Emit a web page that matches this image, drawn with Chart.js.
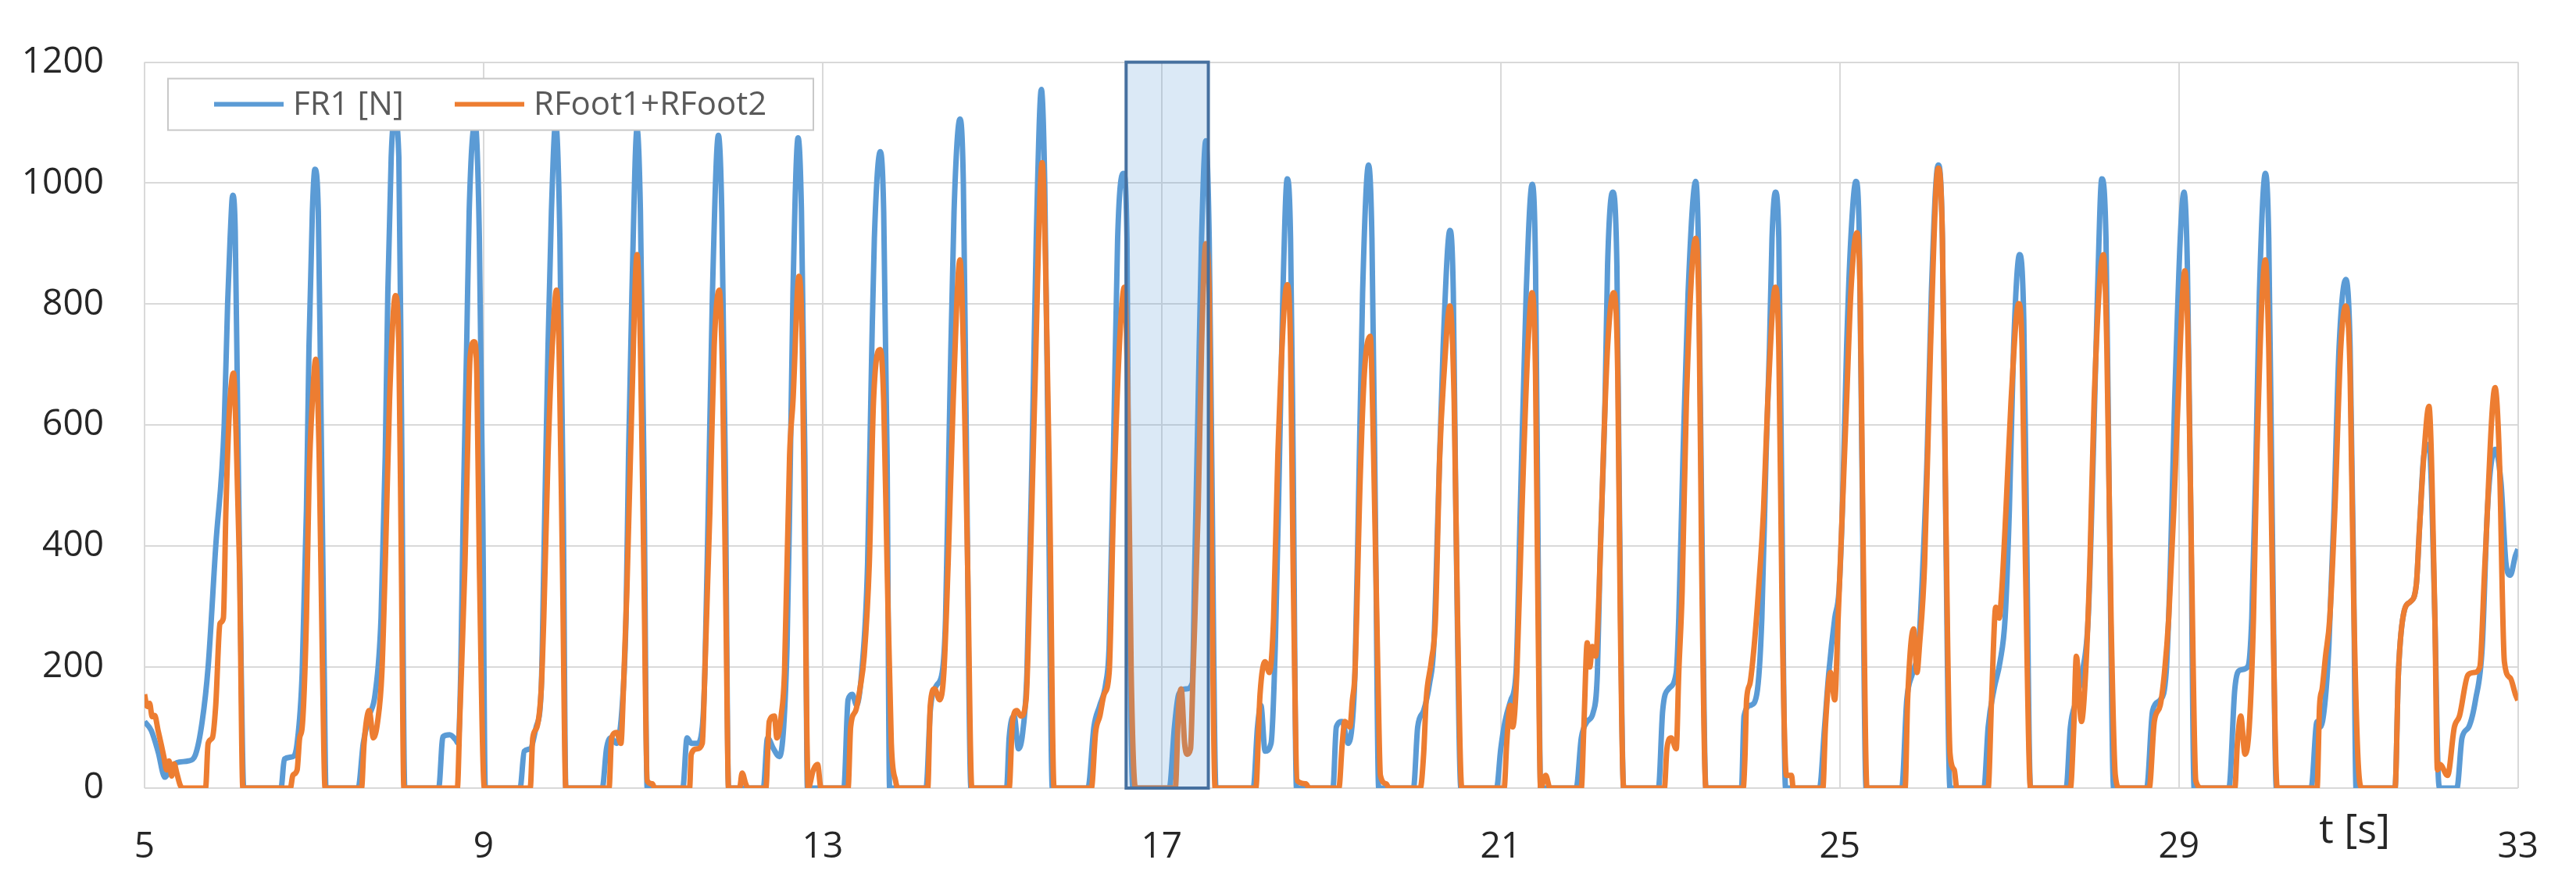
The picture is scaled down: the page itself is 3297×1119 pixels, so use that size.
<!DOCTYPE html>
<html>
<head>
<meta charset="utf-8">
<title>FR1 vs RFoot1+RFoot2</title>
<script src="https://cdn.jsdelivr.net/npm/chart.js@4.4.1/dist/chart.umd.min.js"></script>
<style>
    html, body { margin: 0; padding: 0; background: #ffffff; }
    canvas { display: block; }
</style>
</head>
<body>
<canvas id="forceChart" width="3297" height="1119"></canvas>
<script>
// time ticks [s] and force ticks [N]
const xTicks = [5, 9, 13, 17, 21, 25, 29, 33];
const yTicks = [0, 200, 400, 600, 800, 1000, 1200];

// step marked by the shaded box [s]
const highlightSpan = [16.58, 17.55];

const seriesNames = ['FR1 [N]', 'RFoot1+RFoot2'];

// FR1 [N] samples: [t, force]
const fr1Samples = [
    [5.00,110],[5.08,95],[5.16,60],[5.24,18],[5.30,30],[5.38,42],[5.52,45],[5.60,55],[5.68,110],[5.75,200],[5.84,400],[5.94,600],[5.98,800],[6.01,910],[6.04,980],[6.07,920],[6.10,600],[6.14,200],[6.17,0],
    [6.61,0],[6.65,48],[6.75,52],[6.80,74],[6.86,191],[6.91,460],[6.94,729],[6.98,953],[7.01,1023],[7.05,953],[7.08,640],[7.12,191],[7.14,0],
    [7.52,0],[7.58,74],[7.65,119],[7.72,155],[7.79,281],[7.84,550],[7.87,819],[7.91,1043],[7.95,1110],[8.00,1043],[8.03,640],[8.07,0],
    [8.47,0],[8.52,85],[8.60,88],[8.67,80],[8.70,74],[8.73,191],[8.76,460],[8.80,729],[8.83,953],[8.90,1100],[8.95,909],[8.99,460],[9.02,0],
    [9.43,0],[9.48,61],[9.55,65],[9.62,101],[9.68,164],[9.71,370],[9.76,729],[9.80,953],[9.85,1100],[9.90,909],[9.94,460],[9.97,0],
    [10.40,0],[10.45,65],[10.50,83],[10.57,74],[10.64,146],[10.68,281],[10.71,550],[10.75,819],[10.81,1090],[10.85,953],[10.89,550],[10.93,0],
    [11.35,0],[11.40,83],[11.45,74],[11.52,74],[11.58,101],[11.61,191],[11.65,460],[11.70,819],[11.77,1079],[11.81,953],[11.85,550],[11.89,0],
    [12.30,0],[12.35,83],[12.42,65],[12.49,52],[12.54,101],[12.58,236],[12.61,460],[12.65,819],[12.71,1075],[12.75,953],[12.79,550],[12.82,0],
    [13.25,0],[13.30,146],[13.35,155],[13.40,137],[13.46,191],[13.53,370],[13.58,729],[13.61,909],[13.68,1052],[13.72,953],[13.76,550],[13.79,0],
    [14.22,0],[14.27,128],[14.34,169],[14.41,191],[14.45,281],[14.50,640],[14.55,953],[14.62,1106],[14.66,998],[14.69,640],[14.75,0],
    [15.17,0],[15.20,83],[15.26,119],[15.31,65],[15.36,92],[15.41,191],[15.47,550],[15.52,909],[15.58,1155],[15.62,998],[15.66,550],[15.71,0],
    [16.13,0],[16.20,101],[16.27,137],[16.34,173],[16.38,236],[16.43,550],[16.48,909],[16.55,1016],[16.59,909],[16.61,460],[16.66,0],
    [17.09,0],[17.15,101],[17.20,155],[17.29,164],[17.36,173],[17.39,370],[17.43,640],[17.47,909],[17.52,1070],[17.56,909],[17.59,550],[17.64,0],
    [18.08,0],[18.13,101],[18.17,137],[18.22,61],[18.29,74],[18.34,236],[18.39,550],[18.43,819],[18.48,1007],[18.52,909],[18.55,550],[18.59,0],
    [19.02,0],[19.06,101],[19.13,110],[19.20,74],[19.25,110],[19.28,191],[19.32,460],[19.37,819],[19.44,1030],[19.48,909],[19.52,460],[19.56,0],
    [19.97,0],[20.02,101],[20.09,128],[20.16,173],[20.21,236],[20.26,460],[20.32,729],[20.40,922],[20.44,819],[20.47,460],[20.53,0],
    [20.95,0],[21.00,65],[21.05,110],[21.12,146],[21.18,191],[21.23,460],[21.30,819],[21.37,998],[21.41,864],[21.44,400],[21.47,0],
    [21.89,0],[21.95,83],[22.02,110],[22.09,125],[22.14,191],[22.17,370],[22.23,640],[22.26,864],[22.32,985],[22.37,864],[22.40,460],[22.45,0],
    [22.86,0],[22.91,128],[22.98,164],[23.07,191],[23.10,281],[23.15,550],[23.21,819],[23.30,1003],[23.33,909],[23.37,460],[23.42,0],
    [23.84,0],[23.87,119],[23.95,137],[24.02,155],[24.08,281],[24.13,550],[24.17,729],[24.20,909],[24.24,985],[24.28,909],[24.31,550],[24.36,0],
    [24.76,0],[24.82,101],[24.87,191],[24.94,281],[24.99,326],[25.03,460],[25.08,729],[25.13,909],[25.19,1003],[25.23,909],[25.26,550],[25.31,0],
    [25.73,0],[25.79,146],[25.86,191],[25.93,236],[25.98,370],[26.03,550],[26.08,819],[26.16,1030],[26.21,909],[26.24,550],[26.30,0],
    [26.70,0],[26.75,101],[26.82,164],[26.89,209],[26.95,281],[27.00,460],[27.05,729],[27.12,882],[27.17,774],[27.20,460],[27.25,0],
    [27.67,0],[27.72,101],[27.79,146],[27.86,191],[27.93,281],[27.99,550],[28.04,819],[28.09,1007],[28.14,909],[28.18,460],[28.23,0],
    [28.62,0],[28.69,128],[28.78,146],[28.85,191],[28.90,370],[28.95,640],[29.06,985],[29.10,864],[29.14,460],[29.18,0],
    [29.59,0],[29.66,164],[29.72,195],[29.81,200],[29.86,281],[29.91,550],[29.95,819],[30.02,1016],[30.06,909],[30.10,460],[30.15,0],
    [30.56,0],[30.63,110],[30.67,101],[30.72,137],[30.77,236],[30.83,460],[30.89,729],[30.97,841],[31.02,729],[31.06,370],[31.09,0],
    [31.55,0],[31.59,191],[31.66,294],[31.73,308],[31.80,335],[31.84,433],[31.89,550],[31.95,568],[32.02,281],[32.06,20],[32.08,0],
    [32.28,0],[32.34,83],[32.42,101],[32.50,146],[32.58,236],[32.64,460],[32.73,560],[32.80,505],[32.86,370],[32.91,352],[32.97,384],[33.00,395]
];

// RFoot1+RFoot2 samples: [t, force]
const footSamples = [
    [5.00,155],[5.03,135],[5.06,140],[5.09,118],[5.12,120],[5.16,95],[5.20,70],[5.23,50],[5.26,30],[5.29,45],[5.32,20],[5.35,40],[5.38,25],[5.42,5],[5.45,0],
    [5.72,0],[5.75,74],[5.80,83],[5.84,137],[5.89,272],[5.93,281],[5.96,460],[6.00,622],[6.03,675],[6.05,686],[6.08,586],[6.12,370],[6.16,0],
    [6.72,0],[6.75,21],[6.80,30],[6.83,83],[6.86,101],[6.91,281],[6.94,505],[6.98,640],[7.02,709],[7.06,550],[7.10,191],[7.13,0],
    [7.56,0],[7.59,74],[7.65,128],[7.70,83],[7.75,110],[7.80,191],[7.84,370],[7.89,640],[7.96,814],[8.00,729],[8.03,370],[8.06,0],
    [8.69,0],[8.72,120],[8.74,200],[8.78,370],[8.81,550],[8.84,711],[8.89,738],[8.92,684],[8.95,370],[9.01,0],
    [9.55,0],[9.58,83],[9.63,101],[9.68,164],[9.71,281],[9.76,550],[9.81,729],[9.86,823],[9.89,729],[9.93,370],[9.97,0],
    [10.48,0],[10.51,83],[10.57,92],[10.62,74],[10.65,164],[10.69,326],[10.75,640],[10.81,882],[10.85,729],[10.89,370],[10.93,12],[10.99,7],[11.02,0],
    [11.43,0],[11.45,56],[11.52,65],[11.58,74],[11.61,191],[11.67,460],[11.72,729],[11.78,823],[11.82,675],[11.86,281],[11.89,0],[12.02,0],[12.05,25],[12.09,8],[12.12,0],
    [12.33,0],[12.37,110],[12.43,119],[12.46,83],[12.51,119],[12.55,191],[12.61,550],[12.65,640],[12.72,846],[12.76,729],[12.79,370],[12.83,0],[12.89,30],[12.94,39],[12.98,0],
    [13.30,0],[13.33,101],[13.39,128],[13.44,164],[13.49,218],[13.55,370],[13.60,640],[13.68,725],[13.72,640],[13.76,370],[13.81,74],[13.86,12],[13.89,0],
    [14.24,0],[14.27,137],[14.32,164],[14.38,146],[14.43,191],[14.48,370],[14.54,640],[14.62,873],[14.66,729],[14.71,370],[14.76,0],
    [15.20,0],[15.24,110],[15.29,128],[15.34,119],[15.40,146],[15.45,370],[15.50,640],[15.59,1034],[15.63,864],[15.68,460],[15.73,0],
    [16.17,0],[16.22,92],[16.27,119],[16.32,155],[16.38,191],[16.43,460],[16.50,729],[16.56,828],[16.60,640],[16.64,191],[16.69,0],
    [17.16,0],[17.20,137],[17.23,164],[17.27,74],[17.30,56],[17.34,65],[17.37,191],[17.43,460],[17.47,729],[17.52,900],[17.56,819],[17.59,370],[17.63,0],
    [18.11,0],[18.16,155],[18.22,209],[18.27,191],[18.32,281],[18.37,550],[18.48,832],[18.52,729],[18.55,370],[18.60,12],[18.70,7],[18.74,0],
    [19.09,0],[19.13,74],[19.16,110],[19.22,101],[19.25,146],[19.28,191],[19.34,505],[19.39,684],[19.46,747],[19.50,550],[19.55,191],[19.58,21],[19.65,7],[19.68,0],
    [20.05,0],[20.09,56],[20.12,146],[20.18,209],[20.23,281],[20.28,550],[20.33,684],[20.40,797],[20.45,640],[20.49,281],[20.54,0],
    [21.04,0],[21.07,74],[21.11,137],[21.14,101],[21.19,191],[21.25,460],[21.32,729],[21.37,819],[21.41,684],[21.44,281],[21.47,0],[21.53,21],[21.58,0],
    [21.95,0],[21.98,101],[22.02,240],[22.05,200],[22.08,234],[22.12,218],[22.16,326],[22.21,550],[22.26,729],[22.33,819],[22.38,684],[22.41,281],[22.45,0],
    [22.93,0],[22.96,65],[23.01,83],[23.07,65],[23.10,191],[23.14,326],[23.19,640],[23.30,909],[23.34,774],[23.37,370],[23.42,0],
    [23.86,0],[23.88,48],[23.90,146],[23.94,173],[23.99,236],[24.04,326],[24.10,460],[24.15,640],[24.24,828],[24.28,729],[24.32,281],[24.37,21],[24.43,21],[24.45,0],
    [24.80,0],[24.83,101],[24.89,191],[24.94,146],[24.98,281],[25.03,460],[25.08,640],[25.13,819],[25.20,918],[25.24,819],[25.27,460],[25.32,0],
    [25.77,0],[25.80,146],[25.87,263],[25.91,191],[25.94,236],[26.00,370],[26.07,729],[26.16,1025],[26.21,909],[26.25,460],[26.30,57],[26.35,30],[26.38,0],
    [26.75,0],[26.79,146],[26.84,299],[26.88,281],[26.91,326],[26.96,460],[27.02,640],[27.11,801],[27.15,729],[27.19,370],[27.25,0],
    [27.72,0],[27.76,101],[27.79,218],[27.85,110],[27.90,191],[27.95,370],[28.00,640],[28.11,882],[28.15,729],[28.20,281],[28.25,21],[28.30,0],
    [28.65,0],[28.71,110],[28.78,137],[28.83,191],[28.88,281],[28.94,460],[28.99,640],[29.07,855],[29.11,729],[29.15,370],[29.20,12],[29.27,0],
    [29.66,0],[29.69,74],[29.73,119],[29.78,56],[29.83,101],[29.88,281],[29.92,550],[30.02,873],[30.06,729],[30.11,281],[30.16,0],
    [30.63,0],[30.66,137],[30.69,164],[30.73,218],[30.78,281],[30.84,460],[30.91,729],[30.97,797],[31.02,684],[31.06,326],[31.11,57],[31.16,0],
    [31.55,0],[31.59,191],[31.66,294],[31.73,308],[31.80,335],[31.84,433],[31.89,550],[31.95,631],[32.02,281],[32.05,30],[32.08,39],[32.17,21],
    [32.25,101],[32.31,119],[32.41,187],[32.48,191],[32.55,200],[32.61,370],[32.73,662],[32.78,550],[32.84,209],[32.91,182],[32.97,155],[33.00,145]
];

const BLUE = '#5b9bd5';
const ORANGE = '#ed7d31';
const FONT = "'Open Sans', 'Noto Sans', sans-serif";

function toPoints(samples) {
    return samples.map(s => ({ x: s[0], y: s[1] }));
}

// shaded step box, legend box and the t [s] caption
const overlayPlugin = {
    id: 'overlay',
    afterDatasetsDraw(chart) {
        const { ctx, chartArea, scales } = chart;
        const x0 = scales.x.getPixelForValue(highlightSpan[0]);
        const x1 = scales.x.getPixelForValue(highlightSpan[1]);

        ctx.save();
        ctx.fillStyle = 'rgba(91,155,213,0.22)';
        ctx.fillRect(x0, chartArea.top, x1 - x0, chartArea.bottom - chartArea.top);
        ctx.strokeStyle = '#46709f';
        ctx.lineWidth = 4;
        ctx.strokeRect(x0, chartArea.top, x1 - x0, chartArea.bottom - chartArea.top);

        // legend
        const lx = chartArea.left + 30;
        const ly = chartArea.top + 21;
        ctx.fillStyle = '#ffffff';
        ctx.fillRect(lx, ly, 826, 66);
        ctx.strokeStyle = '#c8c8c8';
        ctx.lineWidth = 2;
        ctx.strokeRect(lx, ly, 826, 66);

        const cy = ly + 33;
        const items = [
            { color: BLUE, from: 59, to: 148, label: seriesNames[0] },
            { color: ORANGE, from: 367, to: 456, label: seriesNames[1] }
        ];
        ctx.lineWidth = 6;
        ctx.font = '42px ' + FONT;
        ctx.textBaseline = 'middle';
        ctx.textAlign = 'left';
        items.forEach(it => {
            ctx.strokeStyle = it.color;
            ctx.beginPath();
            ctx.moveTo(lx + it.from, cy);
            ctx.lineTo(lx + it.to, cy);
            ctx.stroke();
            ctx.fillStyle = '#595959';
            ctx.fillText(it.label, lx + it.to + 12, cy + 1);
        });

        // axis caption
        ctx.fillStyle = '#262626';
        ctx.font = '52px ' + FONT;
        ctx.textAlign = 'center';
        ctx.fillText('t [s]', chartArea.right - 209, chartArea.bottom + 55);
        ctx.restore();
    }
};

function buildChart(ctx) {
    return new Chart(ctx, {
        type: 'line',
        data: {
            datasets: [{
                label: seriesNames[0],
                data: toPoints(fr1Samples),
                borderColor: BLUE,
                borderWidth: 7,
                pointRadius: 0,
                cubicInterpolationMode: 'monotone',
                order: 1
            }, {
                label: seriesNames[1],
                data: toPoints(footSamples),
                borderColor: ORANGE,
                borderWidth: 7,
                pointRadius: 0,
                cubicInterpolationMode: 'monotone',
                order: 0
            }]
        },
        options: {
            responsive: false,
            animation: false,
            devicePixelRatio: 1,
            layout: { padding: { top: 54, right: 56, bottom: 0, left: 0 } },
            plugins: {
                legend: { display: false },
                tooltip: { enabled: false }
            },
            scales: {
                x: {
                    type: 'linear',
                    min: xTicks[0],
                    max: xTicks[xTicks.length - 1],
                    afterBuildTicks: scale => { scale.ticks = xTicks.map(v => ({ value: v })); },
                    afterFit: scale => { scale.height = 110; },
                    ticks: {
                        color: '#262626',
                        font: { size: 46, family: FONT },
                        padding: 48,
                        maxRotation: 0,
                        callback: v => String(v)
                    },
                    grid: { color: '#d9d9d9', lineWidth: 2, drawTicks: false },
                    border: { display: false }
                },
                y: {
                    min: yTicks[0],
                    max: yTicks[yTicks.length - 1],
                    afterBuildTicks: scale => { scale.ticks = yTicks.map(v => ({ value: v })); },
                    afterFit: scale => { scale.width = 185; },
                    ticks: {
                        color: '#262626',
                        font: { size: 46, family: FONT },
                        padding: 52,
                        callback: v => String(v)
                    },
                    grid: { color: '#d9d9d9', lineWidth: 2, drawTicks: false },
                    border: { display: false }
                }
            }
        },
        plugins: [overlayPlugin]
    });
}

document.addEventListener('DOMContentLoaded', () => {
    const ctx = document.getElementById('forceChart').getContext('2d');
    buildChart(ctx);
});
</script>
</body>
</html>
